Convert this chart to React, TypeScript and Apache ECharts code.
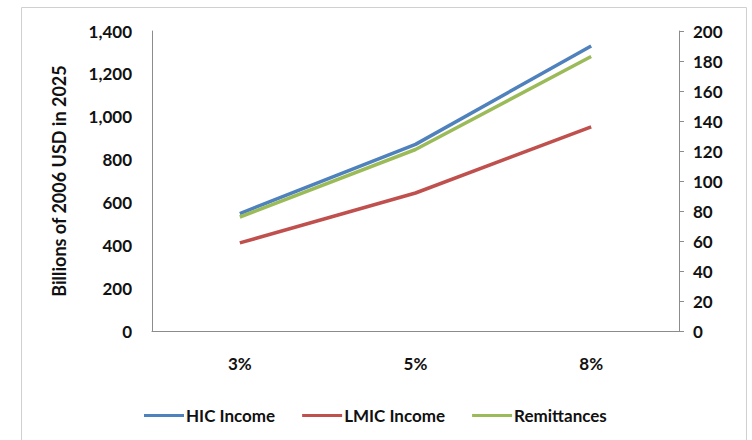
import React, { useEffect, useRef } from "react";
import * as echarts from "echarts";

const categories = ["3%", "5%", "8%"];
const hicIncome = [548, 871, 1330];
const lmicIncome = [411, 644, 953];
const remittances = [76, 121, 183];

const FONT = "Lato, 'Open Sans', sans-serif";

export default function App() {
  const ref = useRef<HTMLDivElement>(null);
  useEffect(() => {
    if (!ref.current) return;
    const chart = echarts.init(ref.current, undefined, { renderer: "svg" });
    const axisLabel = { color: "#111", fontFamily: FONT, fontSize: 17, fontWeight: "bold" };
    chart.setOption({
      animation: false,
      backgroundColor: "#fff",
      textStyle: { fontFamily: FONT },
      graphic: [
        {
          type: "rect",
          shape: { x: 21.5, y: 7.5, width: 725, height: 460 },
          style: { fill: "none", stroke: "#d0d0d0", lineWidth: 1 },
          silent: true,
        },
      ],
      grid: { left: 152, right: 73, top: 31, bottom: 109 },
      legend: {
        left: 139,
        top: 402,
        icon: "rect",
        itemWidth: 40,
        itemHeight: 3,
        itemGap: 27,
        textStyle: { color: "#111", fontFamily: FONT, fontSize: 17, fontWeight: "bold", padding: [0, 0, 0, -3] },
        data: ["HIC Income", "LMIC Income", "Remittances"],
      },
      xAxis: {
        type: "category",
        data: categories,
        boundaryGap: true,
        axisLine: { show: true, lineStyle: { color: "#8c8c8c", width: 1 } },
        axisTick: { show: false },
        axisLabel: { ...axisLabel, margin: 24 },
      },
      yAxis: [
        {
          type: "value",
          min: 0,
          max: 1400,
          interval: 200,
          name: "Billions of 2006 USD in 2025",
          nameLocation: "middle",
          nameGap: 84,
          nameRotate: 90,
          nameTextStyle: { color: "#111", fontFamily: FONT, fontSize: 18, fontWeight: "bold" },
          axisLine: { show: true, lineStyle: { color: "#8c8c8c", width: 1 } },
          axisTick: { show: false },
          splitLine: { show: false },
          axisLabel: {
            ...axisLabel,
            margin: 20,
            formatter: (v: number) => v.toLocaleString("en-US"),
          },
        },
        {
          type: "value",
          min: 0,
          max: 200,
          interval: 20,
          position: "right",
          axisLine: { show: true, lineStyle: { color: "#8c8c8c", width: 1 } },
          axisTick: { show: true, length: 5, lineStyle: { color: "#8c8c8c" } },
          splitLine: { show: false },
          axisLabel: { ...axisLabel, margin: 14 },
        },
      ],
      series: [
        {
          name: "HIC Income",
          type: "line",
          data: hicIncome,
          yAxisIndex: 0,
          symbol: "none",
          color: "#4F81BD",
          lineStyle: { width: 3.5, color: "#4F81BD" },
        },
        {
          name: "LMIC Income",
          type: "line",
          data: lmicIncome,
          yAxisIndex: 0,
          symbol: "none",
          color: "#C0504D",
          lineStyle: { width: 3.5, color: "#C0504D" },
        },
        {
          name: "Remittances",
          type: "line",
          data: remittances,
          yAxisIndex: 1,
          symbol: "none",
          color: "#9BBB59",
          lineStyle: { width: 3.5, color: "#9BBB59" },
        },
      ],
    });
    return () => chart.dispose();
  }, []);
  return <div ref={ref} style={{ width: 752, height: 440, position: "absolute", left: 0, top: 0 }} />;
}
